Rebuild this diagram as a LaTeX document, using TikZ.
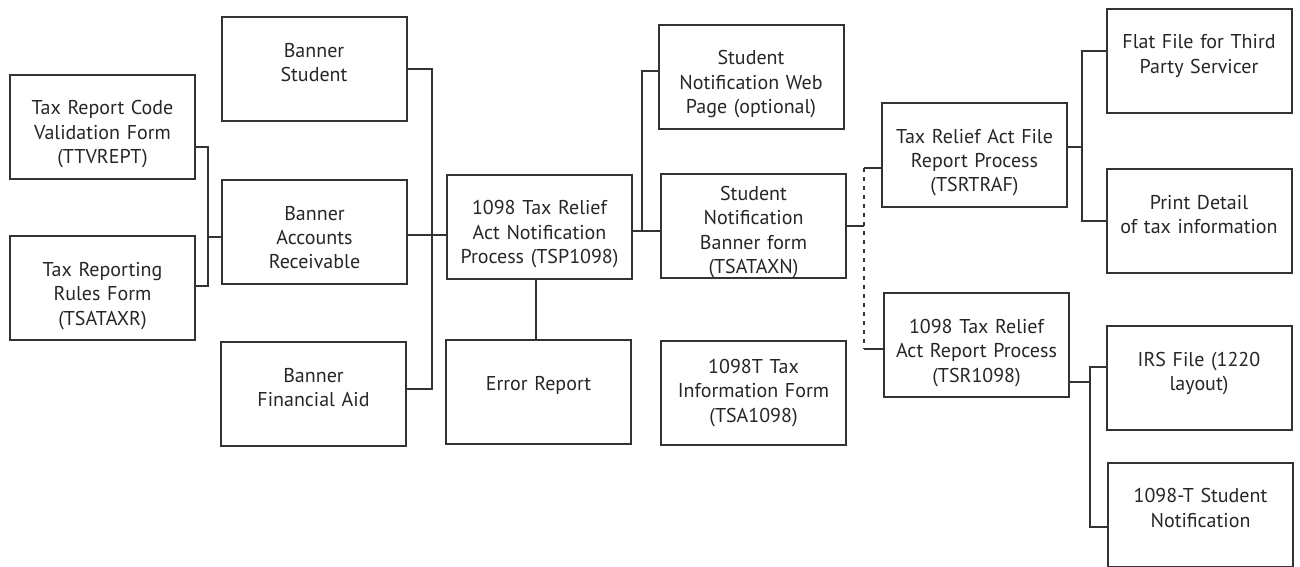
\documentclass[tikz,border=0pt]{standalone}
\usepackage{fontspec}
\setmainfont{PT Sans}
\usetikzlibrary{calc,positioning}

\begin{document}
\begin{tikzpicture}[x=0.5pt,y=-0.5pt,every node/.style={box},
  box/.style={draw=black!80,line width=1pt,rectangle,inner sep=0pt,outer sep=0pt,
    minimum width=92.5pt,minimum height=52pt,text width=90pt,align=center,
    text height=20pt,text depth=32pt,text=black!85,font=\fontsize{10}{12.25}\selectfont},
  link/.style={draw=black!80,line width=1pt},
  dash link/.style={link,dash pattern=on 2.2pt off 2.3pt}]

        \useasboundingbox (0,0) rectangle (1300,567);

        \node (ttv) at (102.5,127) {Tax Report Code\\ Validation Form\\ (TTVREPT)};
        \node (tsataxr) at (102.5,288) {Tax Reporting\\ Rules Form\\ (TSATAXR)};

        \node (bstud) at (314,69.5) {Banner\\ Student};
        \node (bar) at (314.5,232) {Banner\\ Accounts\\ Receivable};
        \node (bfa) at (313.5,394) {Banner\\ Financial Aid};

        \node (tsp) at (539.5,226.5) {1098 Tax Relief\\ Act Notification\\ Process (TSP1098)};
        \node (err) at (538.5,392) [text height=25pt,text depth=27pt] {Error Report};

        \node (web) at (751,77) {Student\\ Notification Web\\ Page (optional)};
        \node (tsataxn) at (753.5,226) [text height=13pt,text depth=39pt] {Student\\ Notification\\ Banner form\\ (TSATAXN)};
        \node (tsa) at (753.5,393) [text height=16pt,text depth=36pt] {1098T Tax\\ Information Form\\ (TSA1098)};

        \node (tsrtraf) at (974.5,155) {Tax Relief Act File\\ Report Process\\ (TSRTRAF)};
        \node (tsr) at (976.5,345) {1098 Tax Relief\\ Act Report Process\\ (TSR1098)};

        \node (flat) at (1199,61) {Flat File for Third\\ Party Servicer};
        \node (print) at (1199,221) {Print Detail\\ of tax information};
        \node (irs) at (1199,378) {IRS File (1220\\ layout)};
        \node (noti) at (1200.5,514.5) {1098-T Student\\ Notification};

        \coordinate (jl) at (208,237);
        \draw[link] ($(ttv.east)+(0,20)$) -| (jl) |- ($(tsataxr.east)+(0,-2)$);
        \draw[link] (jl) -- (bar.west |- jl);

        \coordinate (jm) at (432,235);
        \draw[link] (bstud.east) -| (jm) |- ($(bfa.east)+(0,-5)$);
        \draw[link] (bar.east |- jm) -- (tsp.west |- jm);

        \draw[link] ($(tsp.south)+(-4,0)$) -- ($(tsp.south |- err.north)+(-4,0)$);

        \coordinate (jn) at (642,231);
        \draw[link] (tsp.east |- jn) -- (tsataxn.west |- jn);
        \draw[link] (jn) |- ($(web.west)+(0,-6)$);

        \coordinate (dtop) at (864,168);
        \coordinate (dbot) at (864,349);
        \draw[link] (tsataxn.east) -- (tsataxn.east -| dtop);
        \draw[dash link] (dtop) -- (dbot);
        \draw[link] (dtop) -- (tsrtraf.west |- dtop);
        \draw[link] (dbot) -- (tsr.west |- dbot);

        \coordinate (jr) at (1082,147);
        \draw[link] (tsrtraf.east |- jr) -- (jr);
        \draw[link] ($(flat.west)+(0,-10)$) -| (jr) |- (print.west);

        \coordinate (js) at (1090,382);
        \draw[link] (tsr.east |- js) -- (js);
        \draw[link] ($(irs.west)+(0,-11)$) -| (js) |- ($(noti.west)+(0,12.5)$);
      \end{tikzpicture}
\end{document}
